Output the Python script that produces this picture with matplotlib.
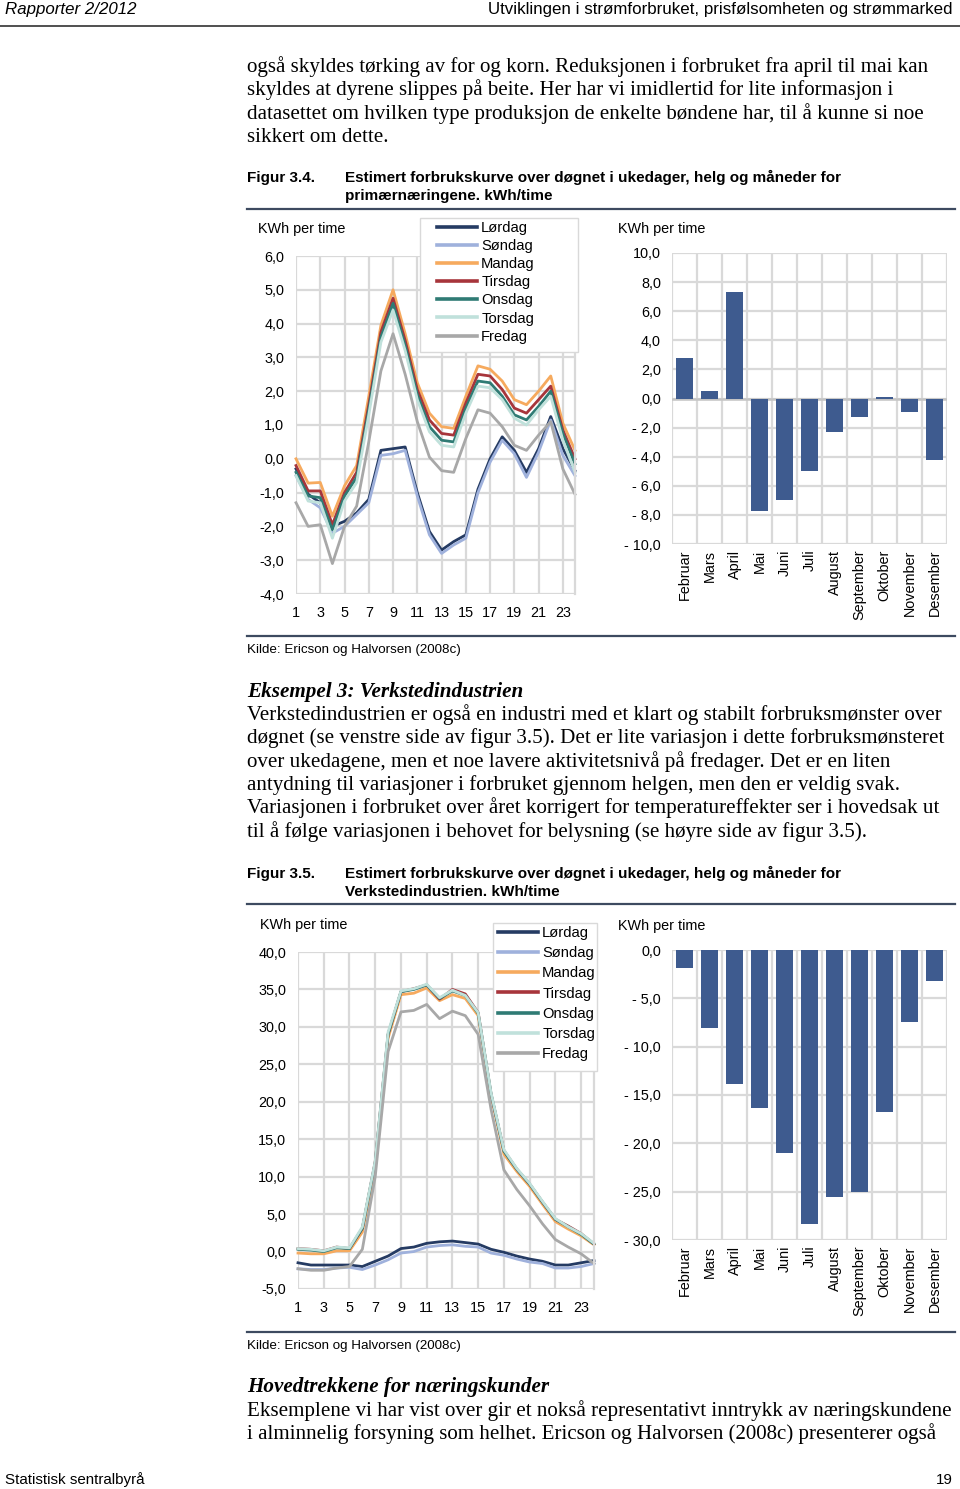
import matplotlib
matplotlib.use('Agg')
import matplotlib.pyplot as plt
from matplotlib.ticker import FuncFormatter, MultipleLocator
from matplotlib.patches import Rectangle
from matplotlib.lines import Line2D

W, H = 960, 1489

# ---- data -------------------------------------------------------------
hours = list(range(1, 25))
days = ['Lørdag', 'Søndag', 'Mandag', 'Tirsdag', 'Onsdag', 'Torsdag', 'Fredag']
day_colors = ['#253b63', '#9fb1dc', '#f6aa5e', '#a7353b', '#2f7b74', '#c0e1db', '#a8a8a8']
months = ['Februar', 'Mars', 'April', 'Mai', 'Juni', 'Juli', 'August',
          'September', 'Oktober', 'November', 'Desember']

# Figur 3.4 - primærnæringene, kWh/time per hour
prim_lordag = [-0.3, -1.05, -1.3, -2.0, -1.85, -1.6, -1.2, 0.25, 0.3, 0.35, -1.0, -2.15,
               -2.7, -2.45, -2.25, -0.9, 0.0, 0.65, 0.25, -0.4, 0.3, 1.25, 0.3, -0.35]
prim_sondag = [-0.5, -1.2, -1.45, -2.2, -2.0, -1.65, -1.3, 0.1, 0.15, 0.25, -1.1, -2.25,
               -2.8, -2.55, -2.35, -1.0, -0.1, 0.55, 0.15, -0.55, 0.2, 1.15, 0.1, -0.5]
prim_mandag = [0.0, -0.72, -0.7, -1.7, -0.8, -0.2, 1.85, 3.95, 5.0, 3.7, 2.25, 1.35,
               0.95, 0.9, 1.85, 2.75, 2.65, 2.3, 1.75, 1.6, 2.0, 2.45, 1.05, 0.25]
prim_tirsdag = [-0.2, -0.95, -0.95, -1.95, -1.0, -0.4, 1.6, 3.75, 4.75, 3.5, 2.05, 1.15,
                0.75, 0.7, 1.65, 2.5, 2.45, 2.05, 1.5, 1.35, 1.75, 2.15, 0.85, 0.0]
prim_onsdag = [-0.4, -1.1, -1.15, -2.1, -1.1, -0.55, 1.45, 3.6, 4.6, 3.35, 1.9, 0.95,
               0.55, 0.5, 1.5, 2.3, 2.25, 1.85, 1.3, 1.15, 1.55, 2.0, 0.75, -0.15]
prim_torsdag = [-0.5, -1.25, -1.3, -2.35, -1.25, -0.7, 1.3, 3.45, 4.4, 3.2, 1.75, 0.8,
                0.4, 0.35, 1.35, 2.15, 2.1, 1.75, 1.2, 1.0, 1.45, 1.85, 0.55, -0.4]
prim_fredag = [-1.3, -2.0, -1.95, -3.1, -2.0, -1.4, 0.5, 2.6, 3.7, 2.5, 1.1, 0.05,
               -0.35, -0.4, 0.6, 1.45, 1.35, 0.95, 0.4, 0.25, 0.7, 1.1, -0.3, -1.05]
prim_months = [2.8, 0.5, 7.3, -7.7, -7.0, -5.0, -2.3, -1.25, 0.1, -0.95, -4.2]

# Figur 3.5 - verkstedindustrien, kWh/time per hour
verk_lordag = [-1.5, -1.8, -1.8, -1.8, -1.8, -2.0, -1.3, -0.6, 0.4, 0.6, 1.1, 1.3,
               1.4, 1.2, 1.0, 0.3, -0.1, -0.6, -1.0, -1.3, -1.8, -1.8, -1.5, -1.2]
verk_sondag = [-2.3, -2.4, -2.4, -2.2, -2.1, -2.4, -1.8, -1.1, -0.2, 0.0, 0.6, 0.8,
               0.9, 0.7, 0.6, -0.2, -0.5, -1.0, -1.4, -1.6, -2.2, -2.2, -2.0, -1.6]
verk_mandag = [-0.2, -0.3, -0.3, 0.1, 0.1, 2.6, 11.0, 28.5, 34.3, 34.5, 35.2, 33.5,
               34.3, 33.8, 31.5, 20.8, 13.0, 10.7, 8.7, 6.3, 4.0, 3.0, 2.1, 0.9]
verk_tirsdag = [0.4, 0.3, 0.1, 0.6, 0.4, 3.1, 12.0, 29.0, 34.7, 35.1, 35.6, 33.7,
                35.0, 34.4, 31.9, 21.0, 13.5, 11.0, 9.0, 6.6, 4.3, 3.4, 2.4, 1.0]
verk_onsdag = [0.3, 0.2, 0.0, 0.5, 0.4, 3.1, 11.9, 29.0, 34.7, 35.0, 35.6, 33.8,
               34.8, 34.2, 31.8, 21.1, 13.4, 11.0, 9.0, 6.6, 4.3, 3.3, 2.3, 1.0]
verk_torsdag = [0.4, 0.3, 0.1, 0.6, 0.5, 3.3, 12.1, 29.3, 34.8, 35.1, 35.7, 33.9,
                34.9, 34.2, 31.9, 21.2, 13.6, 11.1, 9.1, 6.7, 4.4, 3.3, 2.4, 1.1]
verk_fredag = [-2.3, -2.5, -2.5, -2.2, -2.0, 0.3, 10.0, 26.7, 32.0, 32.2, 33.0, 31.1,
               32.1, 31.5, 29.0, 19.0, 10.9, 8.3, 6.1, 3.7, 1.6, 0.6, -0.3, -1.6]
verk_months = [-1.9, -8.1, -13.9, -16.3, -21.0, -28.3, -25.5, -25.0, -16.8, -7.4, -3.2]

prim_days = [prim_lordag, prim_sondag, prim_mandag, prim_tirsdag,
             prim_onsdag, prim_torsdag, prim_fredag]
verk_days = [verk_lordag, verk_sondag, verk_mandag, verk_tirsdag,
             verk_onsdag, verk_torsdag, verk_fredag]

# ---- style -------------------------------------------------------------
SANS = ['Liberation Sans', 'DejaVu Sans']
SERIF = ['Liberation Serif', 'DejaVu Serif']
GRID = '#d9d9d9'
BAR = '#3e5b8f'
RULE = '#3d4a60'
plt.rcParams['font.family'] = SANS

fig = plt.figure(figsize=(W / 100, H / 100), dpi=100)


def fx(x):
    return x / W


def fy(y):
    return 1 - y / H


def px_axes(x0, y0, x1, y1):
    return fig.add_axes([fx(x0), fy(y1), (x1 - x0) / W, (y1 - y0) / H])


def comma(v, pos=None):
    return f"{v:.1f}".replace('.', ',').replace('-0,0', '0,0')


def accounting(v, pos=None):
    if v < -1e-9:
        return "- " + f"{abs(v):.1f}".replace('.', ',')
    return f"{abs(v):.1f}".replace('.', ',')


def text(x, y, s, size, family=SANS, **kw):
    fig.text(fx(x), fy(y), s, fontsize=size, family=family, va='baseline', **kw)


def rule(y, x0=247, x1=955, lw=1.6, color=RULE):
    fig.add_artist(Line2D([fx(x0), fx(x1)], [fy(y), fy(y)], color=color, lw=lw))


def line_panel(rect, series, ylim, ystep, legend_box, legend_anchor, spacing):
    ax = px_axes(*rect)
    for name, vals, col in zip(days, series, day_colors):
        ax.plot(hours, vals, color=col, lw=2.0, label=name, clip_on=False)
    ax.set_xlim(1, 24)
    ax.set_ylim(*ylim)
    ax.set_xticks(range(1, 24, 2))
    ax.yaxis.set_major_locator(MultipleLocator(ystep))
    ax.yaxis.set_major_formatter(FuncFormatter(comma))
    ax.grid(True, color=GRID, lw=1.6, zorder=0)
    ax.set_axisbelow(True)
    for s in ['top', 'left', 'bottom']:
        ax.spines[s].set_visible(False)
    ax.spines['right'].set_color(GRID)
    ax.spines['right'].set_linewidth(1.6)
    ax.tick_params(length=0, labelsize=10.4, pad=8.5)
    # legend box as drawn in the report
    bx0, by0, bx1, by1 = legend_box
    box = Rectangle((fx(bx0), fy(by1)), (bx1 - bx0) / W, (by1 - by0) / H,
                    transform=fig.transFigure, facecolor='white', edgecolor=GRID,
                    lw=1.0, zorder=4.5, clip_on=False)
    ax.add_artist(box)
    leg = ax.legend(loc='upper left', bbox_to_anchor=(fx(legend_anchor[0]), fy(legend_anchor[1])),
                    bbox_transform=fig.transFigure, frameon=False, borderpad=0,
                    borderaxespad=0, handlelength=2.75, handletextpad=0.25,
                    labelspacing=spacing, fontsize=10.6)
    leg.set_zorder(6)
    for ln in leg.get_lines():
        ln.set_linewidth(2.6)
    text(rect[0] - 38, rect[1] - 23, 'KWh per time', 10.4)
    return ax


def bar_panel(rect, vals, ylim, ystep, zero_line):
    ax = px_axes(*rect)
    x = list(range(len(months)))
    ax.bar(x, vals, width=0.66, color=BAR, zorder=3)
    ax.set_xlim(-0.5, len(months) - 0.5)
    ax.set_ylim(*ylim)
    ax.set_xticks(x)
    ax.set_xticklabels(months, rotation=90, va='top', ha='center')
    ax.set_xticks([i - 0.5 for i in range(len(months) + 1)], minor=True)
    ax.yaxis.set_major_locator(MultipleLocator(ystep))
    ax.yaxis.set_major_formatter(FuncFormatter(accounting))
    ax.grid(True, which='minor', axis='x', color=GRID, lw=1.6, zorder=0)
    ax.grid(True, which='major', axis='y', color=GRID, lw=1.6, zorder=0)
    ax.set_axisbelow(True)
    if zero_line:
        ax.axhline(0, color='#c4c4c4', lw=1.8, zorder=2)
    for s in ax.spines.values():
        s.set_visible(False)
    ax.tick_params(which='both', length=0, labelsize=10.4)
    ax.tick_params(axis='y', pad=8)
    ax.tick_params(axis='x', pad=4)
    text(rect[0] - 54, rect[1] - 20.5, 'KWh per time', 10.4)
    return ax


# ---- page header -------------------------------------------------------
text(5, 14, 'Rapporter 2/2012', 12.2, style='italic')
text(953, 14, 'Utviklingen i strømforbruket, prisfølsomheten og strømmarked', 12.2, ha='right')
rule(26, 0, 960, lw=1.4, color='#505050')

body1 = ['også skyldes tørking av for og korn. Reduksjonen i forbruket fra april til mai kan',
         'skyldes at dyrene slippes på beite. Her har vi imidlertid for lite informasjon i',
         'datasettet om hvilken type produksjon de enkelte bøndene har, til å kunne si noe',
         'sikkert om dette.']
for i, ln in enumerate(body1):
    text(247, 72 + i * 23.5, ln, 15.1, family=SERIF)

# ---- Figur 3.4 ---------------------------------------------------------
text(247, 182, 'Figur 3.4.', 11.0, weight='bold')
text(345, 182, 'Estimert forbrukskurve over døgnet i ukedager, helg og måneder for', 11.0, weight='bold')
text(345, 200, 'primærnæringene. kWh/time', 11.0, weight='bold')
rule(209)

line_panel((296, 256, 575, 594), prim_days, (-4, 6), 1.0,
           (420, 218, 578, 352), (437, 221), 0.28)
bar_panel((672, 253, 947, 544), prim_months, (-10, 10), 2.0, True)

rule(636)
text(247, 653, 'Kilde: Ericson og Halvorsen (2008c)', 9.65)

# ---- text between figures ----------------------------------------------
text(247, 697, 'Eksempel 3: Verkstedindustrien', 15.2, family=SERIF, style='italic', weight='bold')
body2 = ['Verkstedindustrien er også en industri med et klart og stabilt forbruksmønster over',
         'døgnet (se venstre side av figur 3.5). Det er lite variasjon i dette forbruksmønsteret',
         'over ukedagene, men et noe lavere aktivitetsnivå på fredager. Det er en liten',
         'antydning til variasjoner i forbruket gjennom helgen, men den er veldig svak.',
         'Variasjonen i forbruket over året korrigert for temperatureffekter ser i hovedsak ut',
         'til å følge variasjonen i behovet for belysning (se høyre side av figur 3.5).']
for i, ln in enumerate(body2):
    text(247, 720 + i * 23.3, ln, 15.1, family=SERIF)

# ---- Figur 3.5 ---------------------------------------------------------
text(247, 878, 'Figur 3.5.', 11.0, weight='bold')
text(345, 878, 'Estimert forbrukskurve over døgnet i ukedager, helg og måneder for', 11.0, weight='bold')
text(345, 896, 'Verkstedindustrien. kWh/time', 11.0, weight='bold')
rule(904)

line_panel((298, 952, 594, 1289), verk_days, (-5, 40), 5.0,
           (493, 923, 597, 1071), (498, 926), 0.42)
bar_panel((672, 950, 947, 1240), verk_months, (-30, 0), 5.0, False)

rule(1332)
text(247, 1349, 'Kilde: Ericson og Halvorsen (2008c)', 9.65)

text(247, 1392, 'Hovedtrekkene for næringskunder', 15.2, family=SERIF, style='italic', weight='bold')
body3 = ['Eksemplene vi har vist over gir et nokså representativt inntrykk av næringskundene',
         'i alminnelig forsyning som helhet. Ericson og Halvorsen (2008c) presenterer også']
for i, ln in enumerate(body3):
    text(247, 1416 + i * 23.3, ln, 15.1, family=SERIF)

# ---- footer ------------------------------------------------------------
text(5, 1484, 'Statistisk sentralbyrå', 10.9)
text(953, 1484, '19', 10.9, ha='right')

fig.savefig('out.png', dpi=100, facecolor='white')
